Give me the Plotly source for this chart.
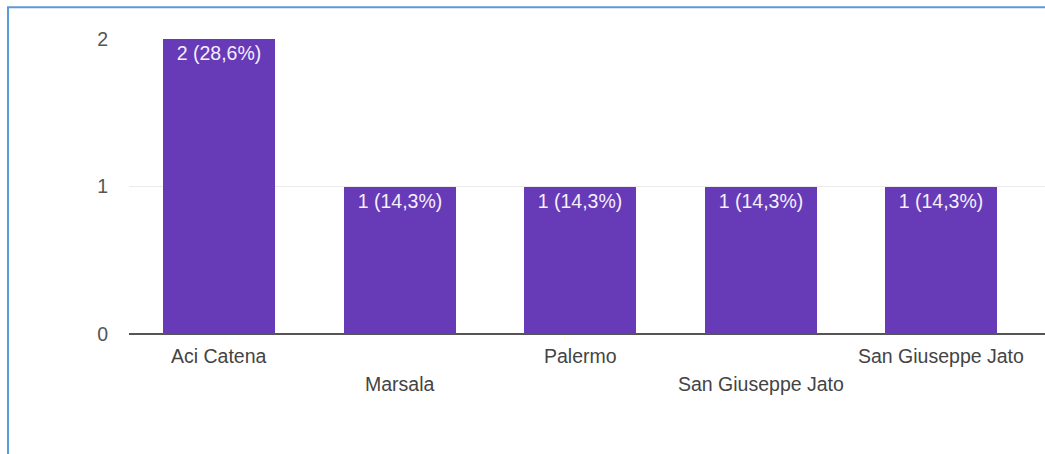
import plotly.graph_objects as go

# Responses per town
towns = ["Aci Catena", "Marsala", "Palermo", "San Giuseppe Jato", "San Giuseppe Jato"]
counts = [2, 1, 1, 1, 1]
percents = ["28,6%", "14,3%", "14,3%", "14,3%", "14,3%"]
y_ticks = [0, 1, 2]

FONT = "Arial, Liberation Sans, sans-serif"
PURPLE = "#673ab7"
TEXT = "#444444"
SIZE = 19.5

positions = list(range(len(towns)))
bar_text = [f"{c} ({p})" for c, p in zip(counts, percents)]

fig = go.Figure()
fig.add_trace(go.Bar(
    x=positions,
    y=counts,
    width=0.62,
    marker=dict(color=PURPLE, line=dict(width=0)),
    text=bar_text,
    textposition="inside",
    insidetextanchor="end",
    textangle=0,
    constraintext="none",
    textfont=dict(family=FONT, size=SIZE, color="#f4f0fb"),
    hoverinfo="skip",
))

# Category labels, staggered on two rows
for i, name in enumerate(towns):
    fig.add_annotation(
        x=i, y=0, xref="x", yref="y",
        text=name, showarrow=False,
        yanchor="middle",
        yshift=-22 if i % 2 == 0 else -50,
        font=dict(family=FONT, size=SIZE, color=TEXT),
    )

# Frame lines along the left and top edges
fig.add_shape(type="line", xref="paper", yref="paper",
              x0=-0.1321, x1=-0.1321, y0=1.108, y1=-0.5,
              line=dict(color="#5b9bd5", width=2))
fig.add_shape(type="line", xref="paper", yref="paper",
              x0=-0.1332, x1=1.05, y0=1.108, y1=1.108,
              line=dict(color="#5b9bd5", width=2))

fig.update_layout(
    width=1045, height=454,
    margin=dict(l=129, r=0, t=39, b=120),
    paper_bgcolor="#ffffff",
    plot_bgcolor="#ffffff",
    showlegend=False,
    bargap=0,
    font=dict(family=FONT, size=SIZE, color=TEXT),
)
fig.update_xaxes(
    range=[-0.5, 4.575],
    showticklabels=False,
    showgrid=False,
    zeroline=False,
    showline=False,
    fixedrange=True,
)
fig.update_yaxes(
    range=[0, 2],
    tickvals=y_ticks,
    ticktext=[str(v) for v in y_ticks],
    showgrid=True,
    gridcolor="#ebebeb",
    gridwidth=1,
    zeroline=True,
    zerolinecolor="#555555",
    zerolinewidth=2,
    showline=False,
    ticks="",
    ticklabelstandoff=20,
    tickfont=dict(family=FONT, size=SIZE, color="#555555"),
    fixedrange=True,
)

fig.write_html("out.html")
